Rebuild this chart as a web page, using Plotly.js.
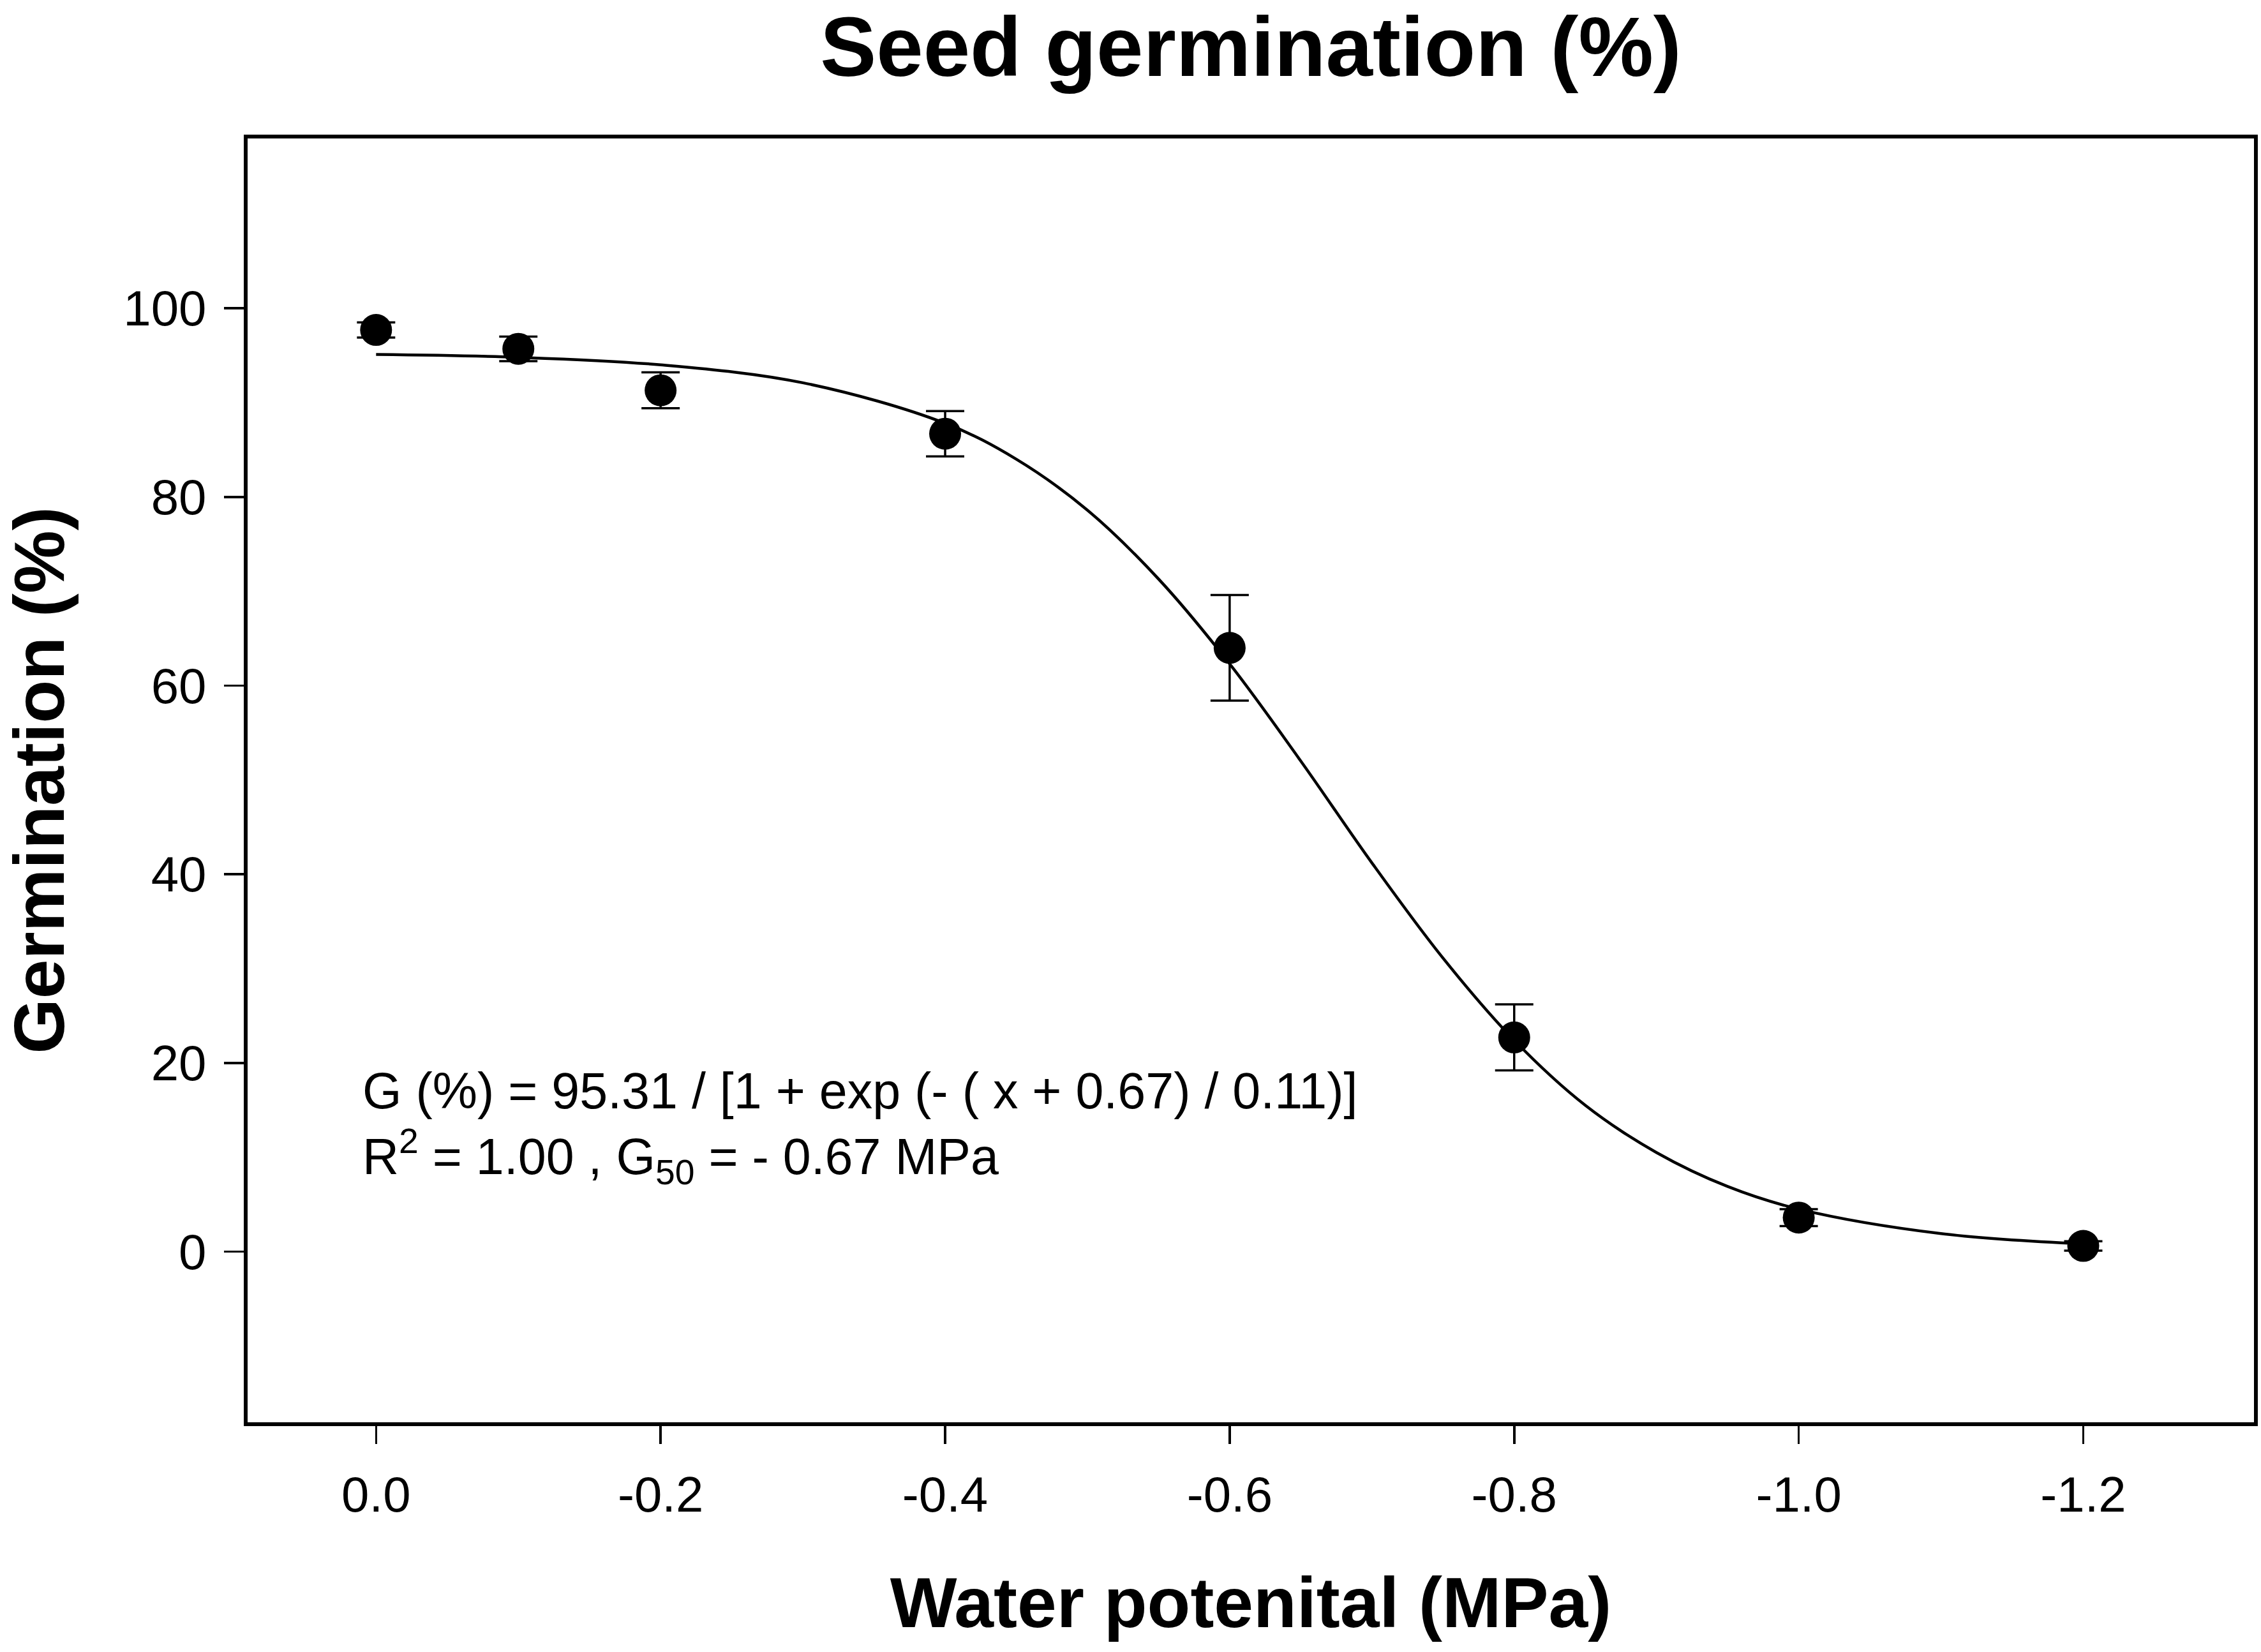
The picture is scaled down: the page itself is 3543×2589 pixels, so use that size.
<!DOCTYPE html>
<html>
<head>
<meta charset="utf-8">
<script src="https://cdn.plot.ly/plotly-3.0.1.min.js"></script>
<style>html,body{margin:0;padding:0;background:#fff;}</style>
</head>
<body>
<div id="chart" style="width:3543px;height:2589px;"></div>
<script>
// Observed data (mean germination % with error)
const waterPotential = [0, -0.1, -0.2, -0.4, -0.6, -0.8, -1.0, -1.2];
const germination = [97.7, 95.7, 91.3, 86.7, 64.0, 22.7, 3.6, 0.6];
const germinationErr = [0.8, 1.3, 1.9, 2.4, 5.6, 3.5, 0.9, 0.5];

// Fitted curve, values
const fitX = [0, -0.1, -0.2, -0.3, -0.4, -0.45, -0.5, -0.55, -0.6, -0.65, -0.7, -0.75, -0.8, -0.85, -0.9, -0.95, -1.0, -1.1, -1.2];
const fitY = [95.1, 94.8, 94.0, 92.1, 87.8, 84.0, 78.6, 71.3, 62.3, 52.0, 41.2, 31.1, 22.4, 15.5, 10.5, 6.9, 4.5, 1.9, 0.8];

// Tick labels
const xTickVals = [0, -0.2, -0.4, -0.6, -0.8, -1.0, -1.2];
const xTickText = ['0.0', '-0.2', '-0.4', '-0.6', '-0.8', '-1.0', '-1.2'];
const yTickVals = [0, 20, 40, 60, 80, 100];
const yTickText = ['0', '20', '40', '60', '80', '100'];

const FONT = 'Liberation Sans, Arial, sans-serif';

const traces = [
  {
    x: fitX, y: fitY, type: 'scatter', mode: 'lines',
    line: {color: '#000', width: 4.5, shape: 'spline', smoothing: 1},
    hoverinfo: 'skip', showlegend: false
  },
  {
    x: waterPotential, y: germination, type: 'scatter', mode: 'markers',
    marker: {color: '#000', size: 50, symbol: 'circle'},
    error_y: {type: 'data', array: germinationErr, visible: true, color: '#000', thickness: 3.5, width: 30},
    showlegend: false
  }
];

const layout = {
  width: 3543, height: 2589,
  paper_bgcolor: '#fff', plot_bgcolor: '#fff',
  margin: {l: 388, r: 11, t: 217, b: 360, pad: 0},
  showlegend: false,
  font: {family: FONT, color: '#000'},
  title: {
    text: '<b>Seed germination (%)</b>',
    font: {family: FONT, size: 132, color: '#000'},
    x: 0.5, xref: 'paper', xanchor: 'center',
    y: 0.972, yref: 'container', yanchor: 'middle'
  },
  xaxis: {
    range: [0.0903, -1.32],
    tickmode: 'array', tickvals: xTickVals, ticktext: xTickText,
    ticks: 'outside', ticklen: 28, tickwidth: 3.5, tickcolor: '#000',
    showline: true, linewidth: 6, linecolor: '#000', mirror: true,
    showgrid: false, zeroline: false,
    tickfont: {family: FONT, size: 78, color: '#000'},
    ticklabelstandoff: 12,
    title: {text: '<b>Water potenital (MPa)</b>', font: {family: FONT, size: 111, color: '#000'}, standoff: 90}
  },
  yaxis: {
    range: [-18.1, 118],
    tickmode: 'array', tickvals: yTickVals, ticktext: yTickText,
    ticks: 'outside', ticklen: 31, tickwidth: 3.5, tickcolor: '#000',
    showline: true, linewidth: 6, linecolor: '#000', mirror: true,
    showgrid: false, zeroline: false,
    tickfont: {family: FONT, size: 78, color: '#000'},
    ticklabelstandoff: 12,
    title: {text: '<b>Germination (%)</b>', font: {family: FONT, size: 111, color: '#000'}, standoff: 90}
  },
  annotations: [
    {
      text: 'G (%) = 95.31 / [1 + exp (- ( x + 0.67) / 0.11)]<br>R<sup>2</sup> = 1.00 , G<sub>50</sub> = - 0.67 MPa',
      xref: 'paper', yref: 'paper', x: 0.0565, y: 0.2301,
      xanchor: 'left', yanchor: 'middle', align: 'left', showarrow: false,
      font: {family: FONT, size: 79, color: '#000'}
    }
  ]
};

Plotly.newPlot('chart', traces, layout, {staticPlot: true, displayModeBar: false});
</script>
</body>
</html>
